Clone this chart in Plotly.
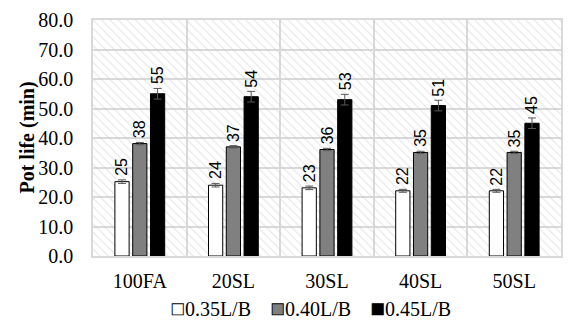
import plotly.graph_objects as go

categories = ["100FA", "20SL", "30SL", "40SL", "50SL"]
series_names = ["0.35L/B", "0.40L/B", "0.45L/B"]
vals_035 = [25.2, 24.0, 23.1, 22.1, 22.1]
vals_040 = [38.1, 37.0, 36.1, 35.1, 35.1]
vals_045 = [55.0, 54.0, 53.0, 51.0, 45.0]
err_035 = [0.6, 0.6, 0.6, 0.5, 0.5]
err_040 = [0.4, 0.4, 0.4, 0.4, 0.4]
err_045 = [1.8, 1.8, 1.8, 1.8, 1.8]
y_ticks = [0, 10, 20, 30, 40, 50, 60, 70, 80]
y_title = "Pot life (min)"

colors = ["#ffffff", "#808080", "#000000"]
series = [vals_035, vals_040, vals_045]
errs = [err_035, err_040, err_045]

W, H = 570, 321
M = dict(l=93, r=7, t=20, b=65)
BARGAP = 0.43

fig = go.Figure()

# decorative hatched plot background on hidden base axes
fig.add_trace(go.Scatter(
    x=[0, 1, 1, 0, 0], y=[0, 0, 1, 1, 0], mode="lines", fill="toself",
    line=dict(width=0), fillcolor="rgba(0,0,0,0)",
    fillpattern=dict(shape="\\", fgcolor="#c8c8c8", size=6, solidity=0.18,
                     fillmode="overlay"),
    hoverinfo="skip", showlegend=False, xaxis="x", yaxis="y"))

for name, vals, err, col in zip(series_names, series, errs, colors):
    fig.add_trace(go.Bar(
        name=name, x=categories, y=vals, xaxis="x2", yaxis="y2",
        marker=dict(color=col, line=dict(color="#000000", width=1)),
        error_y=dict(type="data", array=err, color="#595959", thickness=1, width=4),
        showlegend=False))

# rotated value labels above each bar (offset within the bar group)
cat_px = (W - M["l"] - M["r"]) / len(categories)
slot_px = cat_px * (1 - BARGAP) / len(series)
for i, (vals, err) in enumerate(zip(series, errs)):
    shift = (i - (len(series) - 1) / 2) * slot_px
    for c, v, e in zip(categories, vals, err):
        fig.add_annotation(
            x=c, y=v + e, xref="x2", yref="y2", text=f"{v:.0f}", textangle=-90,
            xanchor="center", yanchor="bottom", xshift=shift, yshift=2,
            showarrow=False,
            font=dict(family="Liberation Sans, Arial", size=16, color="#000000"))

# y axis title
fig.add_annotation(text=f"<b>{y_title}</b>", xref="paper", yref="paper",
                   x=-0.142, y=0.5, xanchor="center", yanchor="middle",
                   textangle=-90, showarrow=False, font=dict(size=20))

# legend drawn as a text row, like the original
sep = "\u00a0" * 4
legend_parts = []
for col, name in zip(colors, series_names):
    legend_parts.append(
        f"<span style='fill:{col};stroke:#000000;stroke-width:0.9;font-size:23px'>■</span>{name}")
fig.add_annotation(text=sep.join(legend_parts), xref="paper", yref="paper",
                   x=0.466, y=-0.224, xanchor="center", yanchor="middle",
                   borderpad=0, showarrow=False, font=dict(size=20))

fig.update_layout(
    width=W, height=H, margin=M,
    paper_bgcolor="white", plot_bgcolor="white",
    barmode="group", bargap=BARGAP, bargroupgap=0.2,
    font=dict(family="Liberation Serif, Times New Roman", size=20, color="#000000"),
    showlegend=False,
    xaxis=dict(range=[0, 1], visible=False, fixedrange=True),
    yaxis=dict(range=[0, 1], visible=False, fixedrange=True),
    xaxis2=dict(overlaying="x", side="bottom", type="category", tickson="boundaries",
                showgrid=True, gridcolor="#d9d9d9", gridwidth=1.5,
                ticks="", ticklabelstandoff=6,
                showline=True, linecolor="#d9d9d9", linewidth=1.5,
                tickfont=dict(size=20), mirror=True),
    yaxis2=dict(overlaying="y", side="left", range=[0, 80], tickvals=y_ticks,
                tickformat=".1f", showgrid=True, gridcolor="#d9d9d9", gridwidth=1.5,
                ticks="outside", ticklen=14, tickcolor="rgba(0,0,0,0)",
                showline=True, linecolor="#d9d9d9", linewidth=1.5, mirror=True,
                zeroline=False, tickfont=dict(size=20)),
)

fig.write_html("out.html")
